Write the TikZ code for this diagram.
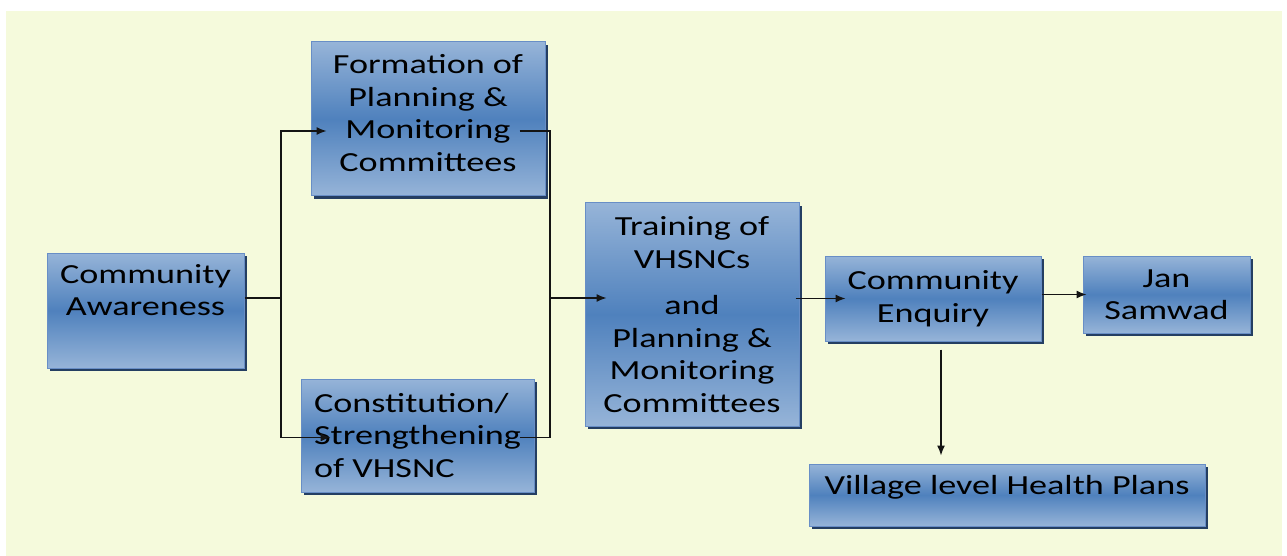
\documentclass[tikz,border=0pt]{standalone}
\usepackage{fontspec}
\setmainfont{Carlito}[FakeStretch=1.31]
\usepackage{tikz}
\usetikzlibrary{positioning,shadows,arrows.meta}

\definecolor{pagebg}{RGB}{245,250,220}
\definecolor{boxlight}{RGB}{150,180,216}
\definecolor{boxdark}{RGB}{79,129,189}
\definecolor{boxedge}{RGB}{104,142,198}
\definecolor{boxshadow}{RGB}{36,62,98}
\definecolor{linkgray}{RGB}{20,20,20}

\tikzset{
    stagebox/.style={draw=boxedge, line width=1pt,
        top color=boxlight, bottom color=boxlight, middle color=boxdark,
        drop shadow={shadow xshift=3pt, shadow yshift=-3pt, fill=boxshadow, opacity=1},
        align=center, inner sep=2pt, font=\fontsize{27.6}{32.5}\selectfont},
    link/.style={draw=linkgray, line width=1.3pt},
    linkarrow/.style={link, -{Latex[length=10pt,width=8pt]}}
}

\begin{document}
\begin{tikzpicture}[x=1pt, y=-1pt]
    \useasboundingbox (0,0) rectangle (1287,556);
    \fill[pagebg] (6,11) rectangle (1282,556);

    \node[stagebox, minimum width=197pt, minimum height=115pt] (aware) at (145.5,310.5) {Community\\Awareness\\[8pt]~};
    \node[stagebox, minimum width=234pt, minimum height=154pt, right=66pt of aware, yshift=191.5pt] (form) {Formation of\\Planning \&\\Monitoring\\Committees\\[-20pt]~};
    \node[stagebox, minimum width=233pt, minimum height=113pt, right=56pt of aware, yshift=-125pt, align=left] (const) {Constitution/\\Strengthening\\of VHSNC};
    \node[stagebox, minimum width=214pt, minimum height=223pt, right=50pt of const, yshift=121pt] (train) {Training of\\VHSNCs\\[14pt]and\\Planning \&\\Monitoring\\Committees};
    \node[stagebox, minimum width=216pt, minimum height=85pt, right=25pt of train, yshift=16pt] (enq) {Community\\Enquiry};
    \node[stagebox, minimum width=167pt, minimum height=77pt, right=41pt of enq, yshift=4pt] (jan) {Jan\\Samwad};
    \node[stagebox, minimum width=396pt, minimum height=62pt, below=122pt of enq, xshift=74pt, text depth=20pt] (vil) {Village level Health Plans};

    % split from awareness
    \coordinate (fork) at (281,298);
    \draw[link] (aware.east |- fork) -- (fork);
    \draw[linkarrow] (fork) |- ([xshift=16pt,yshift=-12pt]form.west);
    \draw[linkarrow] (fork) |- ([xshift=30pt,yshift=-2pt]const.west);

    % join into training
    \coordinate (merge) at (550,298);
    \draw[link] ([xshift=-26pt,yshift=-12pt]form.east) -| (merge);
    \draw[link] ([xshift=-15pt,yshift=-2pt]const.east) -| (merge);
    \draw[linkarrow] (merge) -- ([xshift=22pt]merge -| train.west);

    \draw[linkarrow] ([xshift=-4pt]train.east |- enq.west) -- ([xshift=21pt]enq.west);
    \draw[linkarrow] (enq.east |- jan.west) -- ([xshift=4pt]jan.west);
    \draw[linkarrow] ([xshift=8pt,yshift=-8pt]enq.south) -- ([xshift=8pt,yshift=8pt]enq.south |- vil.north);
\end{tikzpicture}
\end{document}
